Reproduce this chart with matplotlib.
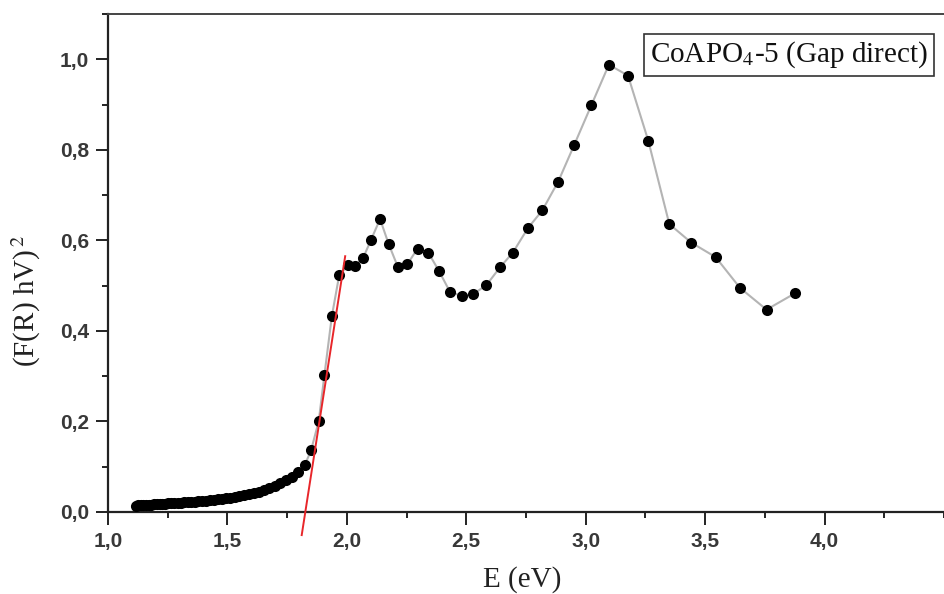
import matplotlib
matplotlib.use("Agg")
import matplotlib.pyplot as plt
from matplotlib.ticker import MultipleLocator

# ---- data ----
energy = [1.117, 1.127, 1.138, 1.148, 1.159, 1.170, 1.181, 1.192, 1.204, 1.216,
          1.228, 1.240, 1.253, 1.265, 1.278, 1.292, 1.305, 1.319, 1.333, 1.348,
          1.363, 1.378, 1.393, 1.409, 1.425, 1.442, 1.459, 1.476, 1.494, 1.512,
          1.531, 1.550, 1.570, 1.590, 1.610, 1.632, 1.653, 1.676, 1.699, 1.722,
          1.746, 1.771, 1.797, 1.824, 1.850, 1.882, 1.906, 1.937, 1.968, 2.005,
          2.033, 2.068, 2.101, 2.139, 2.175, 2.213, 2.253, 2.296, 2.341, 2.386,
          2.431, 2.480, 2.528, 2.584, 2.642, 2.695, 2.758, 2.818, 2.885, 2.952,
          3.024, 3.097, 3.177, 3.262, 3.350, 3.442, 3.544, 3.646, 3.757, 3.876]
fr_hv2 = [0.014, 0.0145, 0.015, 0.0152, 0.0155, 0.016, 0.0163, 0.0167, 0.017, 0.0175,
          0.018, 0.0184, 0.0188, 0.0192, 0.0197, 0.020, 0.0206, 0.021, 0.0217, 0.0223,
          0.023, 0.0237, 0.0245, 0.0253, 0.0262, 0.0272, 0.0283, 0.0295, 0.0306, 0.032,
          0.0335, 0.035, 0.037, 0.039, 0.0415, 0.0445, 0.048, 0.052, 0.057, 0.063,
          0.070, 0.078, 0.088, 0.104, 0.136, 0.200, 0.302, 0.432, 0.523, 0.545,
          0.543, 0.561, 0.601, 0.647, 0.592, 0.542, 0.547, 0.582, 0.573, 0.532,
          0.487, 0.477, 0.481, 0.501, 0.541, 0.573, 0.627, 0.666, 0.730, 0.811,
          0.899, 0.988, 0.964, 0.820, 0.636, 0.595, 0.563, 0.495, 0.447, 0.483]

fit_energy = [1.811, 1.993]
fit_values = [-0.051, 0.565]

xticks = [1.0, 1.5, 2.0, 2.5, 3.0, 3.5, 4.0]
xtick_labels = ["1,0", "1,5", "2,0", "2,5", "3,0", "3,5", "4,0"]
yticks = [0.0, 0.2, 0.4, 0.6, 0.8, 1.0]
ytick_labels = ["0,0", "0,2", "0,4", "0,6", "0,8", "1,0"]

legend_text = "CoAPO$_4$-5 (Gap direct)"

# ---- figure ----
plt.rcParams["mathtext.fontset"] = "stix"
fig = plt.figure(figsize=(9.44, 5.94), dpi=100)
ax = fig.add_axes([108 / 944, 1 - 512 / 594, (944 - 108) / 944, (512 - 14) / 594])

ax.plot(energy, fr_hv2, color="#b4b4b4", lw=1.5, zorder=2)
ax.plot(energy, fr_hv2, "o", color="black", ms=8, mew=0, zorder=3)
ax.plot(fit_energy, fit_values, color="#e8262a", lw=1.4, zorder=4, clip_on=False)

ax.set_xlim(1.0, 4.5)
ax.set_ylim(0.0, 1.1)

ax.set_xticks(xticks)
ax.set_xticklabels(xtick_labels)
ax.set_yticks(yticks)
ax.set_yticklabels(ytick_labels)
ax.xaxis.set_minor_locator(MultipleLocator(0.25))
ax.yaxis.set_minor_locator(MultipleLocator(0.1))

tick_col = "#383838"
ax.tick_params(axis="both", which="major", direction="out", length=9, width=1.4,
               color="#222222", labelsize=15, labelcolor=tick_col)
ax.tick_params(axis="x", which="major", pad=5.2)
ax.tick_params(axis="y", which="major", pad=4.5)
ax.tick_params(axis="both", which="minor", direction="out", length=4.5, width=1.4,
               color="#222222")
ax.tick_params(top=False, right=False, which="both")
for lab in ax.get_xticklabels() + ax.get_yticklabels():
    lab.set_fontfamily("Liberation Sans")
    lab.set_fontweight("bold")

for side in ["left", "bottom"]:
    ax.spines[side].set_linewidth(1.6)
    ax.spines[side].set_color("#222222")
ax.spines["top"].set_linewidth(1.4)
ax.spines["top"].set_color("#444444")
ax.spines["right"].set_visible(False)

ax.set_xlabel("E (eV)", fontsize=21, fontfamily="Liberation Serif", color="#222222")
ax.xaxis.set_label_coords((522 - 108) / 836, -(566 - 512) / 498)
ax.set_ylabel("(F(R) hV)$^{\\,2}$", fontsize=21, fontfamily="Liberation Serif",
              color="#222222")
ax.yaxis.set_label_coords(-(108 - 43) / 836, (512 - 301) / 498)

ax.text((789 - 108) / 836, (512 - 55) / 498, legend_text, transform=ax.transAxes,
        ha="center", va="center", fontsize=21, fontfamily="Liberation Serif",
        color="#111111",
        bbox=dict(boxstyle="square,pad=0.2", facecolor="white", edgecolor="#333333",
                  linewidth=1.2))

fig.savefig("out.png", dpi=100)
